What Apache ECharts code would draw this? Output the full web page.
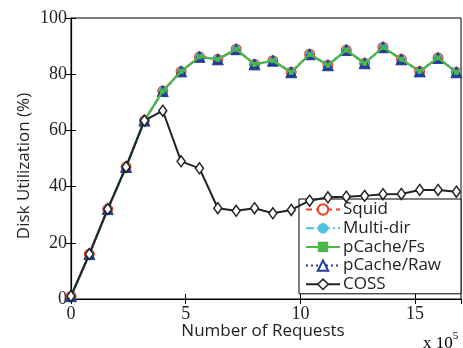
<!DOCTYPE html>
<html>
<head>
<meta charset="utf-8">
<script src="https://cdn.jsdelivr.net/npm/echarts@6/dist/echarts.min.js"></script>
<style>
html,body{margin:0;padding:0;background:#fff;}
#chart{width:463px;height:348px;}
</style>
</head>
<body>
<div id="chart"></div>
<script>
// Number of requests (x 10^5)
const requests = [0, 0.8, 1.6, 2.4, 3.2, 4.0, 4.8, 5.6, 6.4, 7.2, 8.0, 8.8, 9.6, 10.4, 11.2, 12.0, 12.8, 13.6, 14.4, 15.2, 16.0, 16.8];
const squid    = [1, 16, 32, 47, 63.5, 74, 81, 86.2, 85.3, 88.9, 83.5, 84.8, 80.7, 87.1, 83.2, 88.6, 83.9, 89.6, 85.3, 81, 85.8, 80.7];
const multiDir = [1, 16, 32, 47, 63.5, 74, 81, 86.2, 85.3, 88.9, 83.5, 84.8, 80.7, 87.1, 83.2, 88.6, 83.9, 89.6, 85.3, 81, 85.8, 80.7];
const pcacheFs = [1, 16, 32, 47, 63.5, 74, 81, 86.2, 85.3, 88.9, 83.5, 84.8, 80.7, 87.1, 83.2, 88.6, 83.9, 89.6, 85.3, 81, 85.8, 80.7];
const pcacheRaw= [1, 16, 32, 47, 63.5, 74, 81, 86.2, 85.3, 88.9, 83.5, 84.8, 80.7, 87.1, 83.2, 88.6, 83.9, 89.6, 85.3, 81, 85.8, 80.7];
const coss     = [1, 16, 32, 47, 63.5, 67, 49, 46.5, 32.3, 31.4, 32.3, 30.5, 31.7, 35, 36.2, 36.4, 36.7, 37.3, 37.4, 38.8, 38.8, 38.2];
const xTicks = [0, 5, 10, 15];
const yTicks = [0, 20, 40, 60, 80, 100];

const zip = (a, b) => a.map((v, i) => [v, b[i]]);
const serif = 'Liberation Serif';
const sans = 'Open Sans';

const RED = '#f0402a', CYAN = '#4ec2dc', GREEN = '#4cb848', BLUE = '#1f3d99', BLACK = '#222';

const chart = echarts.init(document.getElementById('chart'));
chart.setOption({
  animation: false,
  backgroundColor: '#fff',
  grid: {left: 71, right: 2, top: 18, bottom: 49, show: true, borderColor: '#000', borderWidth: 1},
  xAxis: [{
    type: 'value', min: 0, max: 17, interval: 5,
    axisLine: {lineStyle: {color: '#000', width: 1.2}},
    axisTick: {inside: true, length: 5, lineStyle: {color: '#000'}},
    axisLabel: {fontFamily: serif, fontSize: 18, color: '#222', margin: 6, showMaxLabel: false,
      formatter: v => xTicks.includes(v) ? String(v) : ''},
    splitLine: {show: false}
  }, {
    type: 'value', position: 'top', min: 0, max: 17, interval: 5,
    axisLine: {lineStyle: {color: '#000'}},
    axisTick: {inside: true, length: 5, lineStyle: {color: '#000'}},
    axisLabel: {show: false}, splitLine: {show: false}
  }],
  yAxis: [{
    type: 'value', min: 0, max: 100, interval: 20,
    axisLine: {show: true, lineStyle: {color: '#000', width: 1.2}},
    axisTick: {show: true, inside: true, length: 5, lineStyle: {color: '#000'}},
    axisLabel: {fontFamily: serif, fontSize: 18, color: '#222', margin: 4,
      formatter: v => yTicks.includes(v) ? String(v) : ''},
    splitLine: {show: false}
  }, {
    type: 'value', position: 'right', min: 0, max: 100, interval: 20,
    axisLine: {show: true, lineStyle: {color: '#000'}},
    axisTick: {show: true, inside: true, length: 5, lineStyle: {color: '#000'}},
    axisLabel: {show: false}, splitLine: {show: false}
  }],
  legend: {
    orient: 'vertical', left: 299, top: 199,
    padding: [2, 20, 1, 6],
    backgroundColor: '#fff', borderColor: '#000', borderWidth: 1,
    itemWidth: 34, itemHeight: 13, itemGap: 1.7,
    textStyle: {fontFamily: sans, fontSize: 17, color: '#222', padding: [0, 0, 0, -2]},
    data: [
      {name: 'Squid'},
      {name: 'Multi-dir'},
      {name: 'pCache/Fs'},
      {name: 'pCache/Raw', itemStyle: {color: '#fff', borderColor: BLUE, borderWidth: 2}},
      {name: 'COSS', itemStyle: {color: '#fff', borderColor: BLACK, borderWidth: 1.5}}
    ]
  },
  series: [
    {name: 'Squid', type: 'line', data: zip(requests, squid), symbol: 'circle', symbolSize: 9,
      lineStyle: {color: RED, width: 2, type: [6, 4]}, itemStyle: {color: '#fff', borderColor: RED, borderWidth: 2}, z: 2},
    {name: 'Multi-dir', type: 'line', data: zip(requests, multiDir), symbol: 'circle', symbolSize: 8,
      lineStyle: {color: CYAN, width: 2, type: [8, 3, 2, 3]}, itemStyle: {color: CYAN, borderColor: CYAN}, z: 3},
    {name: 'pCache/Raw', type: 'line', data: zip(requests, pcacheRaw), symbol: 'triangle', symbolSize: 11,
      lineStyle: {color: BLUE, width: 2, type: [2, 3]}, itemStyle: {color: BLUE, borderColor: BLUE, borderWidth: 1}, z: 4},
    {name: 'pCache/Fs', type: 'line', data: zip(requests, pcacheFs), symbol: 'rect', symbolSize: 4,
      lineStyle: {color: GREEN, width: 2.2}, itemStyle: {color: GREEN, borderColor: GREEN}, z: 5},
    {name: 'COSS', type: 'line', data: zip(requests, coss), symbol: 'diamond', symbolSize: [8, 11],
      lineStyle: {color: BLACK, width: 2}, itemStyle: {color: '#fff', borderColor: BLACK, borderWidth: 1.5}, z: 6}
  ],
  graphic: [
    {type: 'text', x: 263, y: 331,
      style: {text: 'Number of Requests', font: '17px "' + sans + '"', fill: '#222', textAlign: 'center', textVerticalAlign: 'middle'}},
    {type: 'text', rotation: Math.PI / 2, x: 16, y: 166,
      style: {text: 'Disk Utilization (%)', font: '17px "' + sans + '"', fill: '#222', textAlign: 'center', textVerticalAlign: 'top'}},
    {type: 'text', x: 423, y: 331,
      style: {text: '{a|x 10}{b|5}', rich: {
        a: {fontFamily: serif, fontSize: 17, color: '#222', verticalAlign: 'bottom'},
        b: {fontFamily: serif, fontSize: 11, color: '#222', verticalAlign: 'top', padding: [0, 0, 10, 0]}
      }}}
  ]
});
</script>
</body>
</html>
